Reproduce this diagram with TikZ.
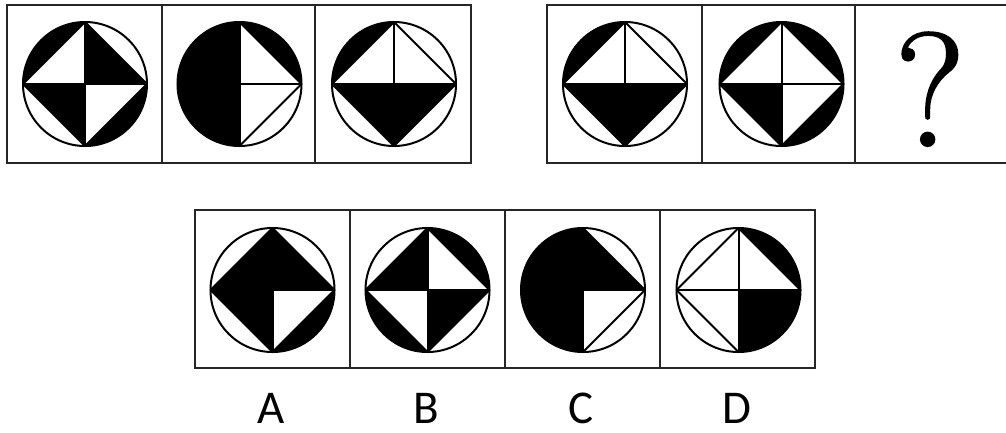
\documentclass[tikz,border=0pt]{standalone}
\usepackage{fontspec}
\newfontfamily\labelfont{Carlito}
\newfontfamily\qfont{Latin Modern Roman}[FakeBold=1.3]
\newlength\Rfig
\setlength\Rfig{62pt}
\tikzset{
  boxline/.style={line width=2.6pt, draw=black!85},
  figline/.style={line width=2pt, draw=black, line join=round},
  lbl/.style={anchor=base, inner sep=0pt, font=\labelfont\fontsize{47}{47}\selectfont},
}
% #1 centre; #2..#9 fills: sTL tTL tTR sTR sBL tBL tBR sBR
\newcommand\puzzlefig[9]{%
  \begin{scope}[shift={#1}]
    \fill[#2] (180:\Rfig) arc[start angle=180, end angle=90, radius=\Rfig] -- cycle;
    \fill[#3] (0pt,0pt) -- (180:\Rfig) -- (90:\Rfig) -- cycle;
    \fill[#4] (0pt,0pt) -- (90:\Rfig) -- (0:\Rfig) -- cycle;
    \fill[#5] (90:\Rfig) arc[start angle=90, end angle=0, radius=\Rfig] -- cycle;
    \fill[#6] (270:\Rfig) arc[start angle=270, end angle=180, radius=\Rfig] -- cycle;
    \fill[#7] (0pt,0pt) -- (180:\Rfig) -- (270:\Rfig) -- cycle;
    \fill[#8] (0pt,0pt) -- (270:\Rfig) -- (0:\Rfig) -- cycle;
    \fill[#9] (0:\Rfig) arc[start angle=0, end angle=-90, radius=\Rfig] -- cycle;
    \draw[figline] (0pt,0pt) circle[radius=\Rfig];
    \draw[figline] (0:\Rfig) -- (90:\Rfig) -- (180:\Rfig) -- (270:\Rfig) -- cycle;
    \draw[figline] (0:\Rfig) -- (180:\Rfig) (90:\Rfig) -- (270:\Rfig);
  \end{scope}}
\begin{document}
\begin{tikzpicture}[x=1pt,y=-1pt]
\useasboundingbox (0,0) rectangle (1006,432);
\fill[white] (0,0) rectangle (1006,432);
% boxes
\draw[boxline] (7,5) rectangle (471,163);
\draw[boxline] (162,5) -- (162,163) (315,5) -- (315,163);
\draw[boxline] (1012,5) -- (547,5) -- (547,163) -- (1012,163);
\draw[boxline] (702,5) -- (702,163) (855,5) -- (855,163);
\draw[boxline] (195,210) rectangle (815,368);
\draw[boxline] (350,210) -- (350,368) (505,210) -- (505,368) (660,210) -- (660,368);
% top row
\puzzlefig{(85,84)}{black}{white}{black}{white}{white}{black}{white}{black}
\puzzlefig{(239.5,84)}{black}{black}{white}{black}{black}{black}{white}{white}
\puzzlefig{(394,84)}{black}{white}{white}{white}{white}{black}{black}{white}
\puzzlefig{(625,84)}{black}{white}{white}{white}{white}{black}{black}{white}
\puzzlefig{(781.5,84)}{black}{white}{white}{black}{white}{black}{white}{black}
\node[anchor=base, inner sep=0pt] (q) at (930,146) {\qfont\fontsize{162}{162}\selectfont ?};
% options
\puzzlefig{(272.5,290)}{white}{black}{black}{white}{white}{black}{white}{black}
\puzzlefig{(427.5,290)}{white}{black}{white}{black}{black}{white}{black}{white}
\puzzlefig{(583,290)}{black}{black}{black}{white}{black}{black}{white}{white}
\puzzlefig{(738.5,290)}{white}{white}{white}{black}{white}{white}{black}{black}
\node[lbl] (la) at (271,423) {A};
\node[lbl] (lb) at (426,423) {B};
\node[lbl] (lc) at (581,423) {C};
\node[lbl] (ld) at (737,423) {D};
\end{tikzpicture}
\end{document}
